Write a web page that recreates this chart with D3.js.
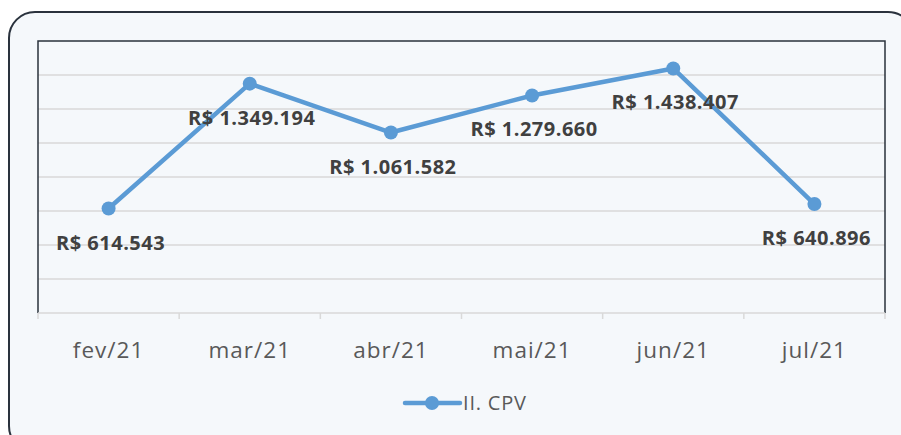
<!DOCTYPE html>
<html><head><meta charset="utf-8">
<script src="https://cdn.jsdelivr.net/npm/d3@7"></script>
<style>html,body{margin:0;padding:0;background:#fff;}svg{display:block;}</style>
</head><body>
<svg id="c" width="901" height="435"></svg>
<script>
const categories = ["fev/21","mar/21","abr/21","mai/21","jun/21","jul/21"];
const values = [614543, 1349194, 1061582, 1279660, 1438407, 640896];
const valueLabels = ["R$ 614.543","R$ 1.349.194","R$ 1.061.582","R$ 1.279.660","R$ 1.438.407","R$ 640.896"];
const yTicks = [0,200000,400000,600000,800000,1000000,1200000,1400000,1600000];
const seriesName = "II. CPV";

const svg = d3.select("#c");
const font = "'Open Sans', 'Noto Sans', sans-serif";
svg.append("rect").attr("x",9).attr("y",12).attr("width",905).attr("height",440)
  .attr("rx",26).attr("fill","#f5f8fb").attr("stroke","#2a323d").attr("stroke-width",2);

const L=38,R=885,T=41,B=313;
const x = d3.scaleBand().domain(categories).range([L,R]);
const y = d3.scaleLinear().domain([0,1600000]).range([B,T]);

svg.append("g").selectAll("line").data(yTicks.filter(d=>d>0&&d<1600000)).join("line")
  .attr("x1",L).attr("x2",R).attr("y1",d=>y(d)).attr("y2",d=>y(d))
  .attr("stroke","#d9d9d9").attr("stroke-width",1.5);

svg.append("path").attr("d",`M${L},${B}V${T}H${R}V${B}`).attr("fill","none").attr("stroke","#2a323d").attr("stroke-width",1.5);

const xa = svg.append("g").attr("transform",`translate(0,${B})`)
  .call(d3.axisBottom(x).tickSize(0).tickPadding(0));
xa.select(".domain").remove();
xa.selectAll("text").remove();
svg.append("line").attr("x1",L).attr("x2",R).attr("y1",B).attr("y2",B).attr("stroke","#d9d9d9").attr("stroke-width",1.5);
const bounds = [L, ...categories.map(c=>x(c)+x.bandwidth())];
svg.append("g").selectAll("line").data(bounds).join("line")
  .attr("x1",d=>d).attr("x2",d=>d).attr("y1",B).attr("y2",B+6).attr("stroke","#d9d9d9").attr("stroke-width",1.5);
svg.append("g").selectAll("text").data(categories).join("text")
  .attr("x",d=>x(d)+x.bandwidth()/2).attr("y",358).attr("text-anchor","middle")
  .attr("font-family",font).attr("font-size",22.5).attr("letter-spacing",1).attr("fill","#595959").text(d=>d);

const cx = i=>x(categories[i])+x.bandwidth()/2;
const line = d3.line().x((d,i)=>cx(i)).y(d=>y(d));
svg.append("path").datum(values).attr("d",line).attr("fill","none")
  .attr("stroke","#5b9bd5").attr("stroke-width",4.5).attr("stroke-linejoin","round");
svg.append("g").selectAll("circle").data(values).join("circle")
  .attr("cx",(d,i)=>cx(i)).attr("cy",d=>y(d)).attr("r",7).attr("fill","#5b9bd5");

svg.append("g").selectAll("text").data(values).join("text")
  .attr("x",(d,i)=>cx(i)+2).attr("y",d=>y(d)+41).attr("text-anchor","middle")
  .attr("font-family",font).attr("font-weight","bold").attr("font-size",20).attr("letter-spacing",0.5)
  .attr("fill","#404040")
  .text((d,i)=>valueLabels[i]);

svg.append("line").attr("x1",405).attr("x2",460).attr("y1",403).attr("y2",403).attr("stroke","#5b9bd5").attr("stroke-width",4.5).attr("stroke-linecap","round");
svg.append("circle").attr("cx",432).attr("cy",403).attr("r",7).attr("fill","#5b9bd5");
svg.append("text").attr("x",463).attr("y",410).attr("font-family",font).attr("font-size",20).attr("letter-spacing",0.8).attr("fill","#595959").text(seriesName);
</script>
</body></html>
